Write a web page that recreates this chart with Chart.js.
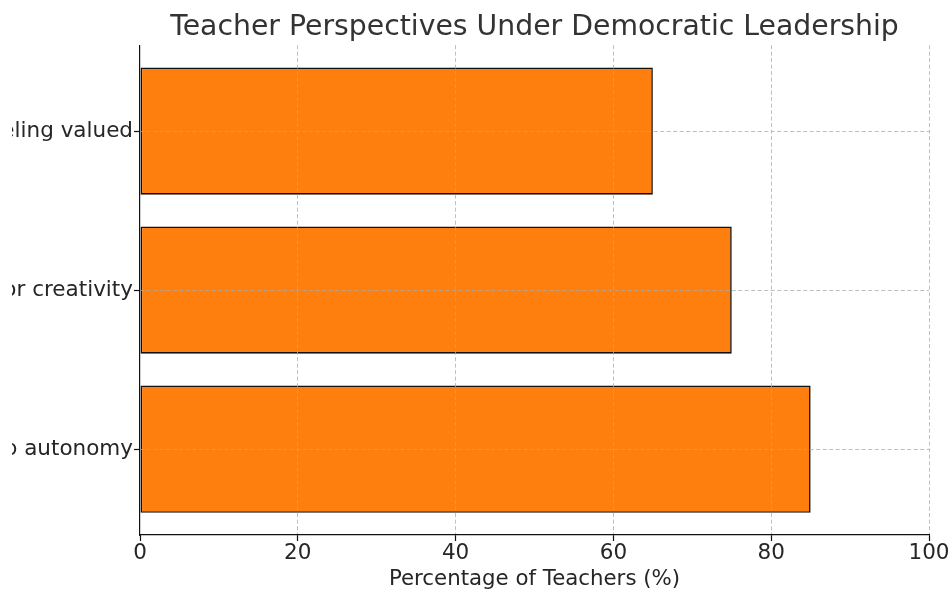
<!DOCTYPE html>
<html>
<head>
<meta charset="utf-8">
<script src="https://cdn.jsdelivr.net/npm/chart.js@4/dist/chart.umd.min.js"></script>
<style>
  html, body { margin: 0; padding: 0; background: #ffffff; }
  #wrap { width: 938px; height: 592px; padding-left: 12px; }
  canvas { display: block; }
</style>
</head>
<body>
<div id="wrap"><canvas id="chart" width="938" height="592"></canvas></div>
<script>
// Categories, bottom to top
const categories = ['Increased job autonomy', 'Support for creativity', 'Feeling valued'];
// Share of teachers reporting each perspective (%)
const percentages = [85, 75, 65];
// Value-axis tick labels
const xTicks = [0, 20, 40, 60, 80, 100];

const FONT = '"DejaVu Sans", "Liberation Sans", sans-serif';
const TEXT = '#262626';
const GRID = 'rgba(170,170,170,0.75)';

const points = percentages.map((v, i) => ({ x: v, y: i }));

// grid lines sit above the bars; the zero line is left to the solid axis spine
const xGridColor = (ctx) => (ctx.tick && ctx.tick.value === 0) ? 'rgba(0,0,0,0)' : GRID;

new Chart(document.getElementById('chart'), {
  type: 'bar',
  data: {
    datasets: [{
      data: points,
      backgroundColor: '#ff7f0e',
      borderColor: '#111111',
      borderWidth: 1.6,
      borderSkipped: false,
      barPercentage: 0.8,
      categoryPercentage: 1.0
    }]
  },
  options: {
    indexAxis: 'y',
    responsive: false,
    animation: false,
    layout: { padding: { left: 0, right: 21, top: 0, bottom: 0 } },
    plugins: {
      legend: { display: false },
      tooltip: { enabled: false },
      title: {
        display: true,
        fullSize: false,
        text: 'Teacher Perspectives Under Democratic Leadership',
        color: '#333333',
        font: { family: FONT, size: 28.3, weight: 'normal', lineHeight: 1.1 },
        padding: { top: 12, bottom: 2 }
      }
    },
    scales: {
      x: {
        type: 'linear',
        position: 'bottom',
        min: 0,
        max: 100,
        afterBuildTicks: (scale) => { scale.ticks = xTicks.map(v => ({ value: v })); },
        afterFit: (scale) => { scale.height = 57; },
        ticks: {
          color: TEXT,
          font: { family: FONT, size: 21.5 },
          padding: 0,
          maxRotation: 0
        },
        grid: {
          z: 1,
          color: xGridColor,
          lineWidth: 1,
          tickColor: '#111111',
          tickBorderDash: [],
          tickLength: 6,
          tickWidth: 1.2
        },
        border: { display: true, z: 2, color: '#111111', width: 1.2, dash: [4, 2.5] },
        title: {
          display: true,
          text: 'Percentage of Teachers (%)',
          color: TEXT,
          font: { family: FONT, size: 21.3 },
          padding: { top: 0, bottom: 0 }
        }
      },
      y: {
        type: 'linear',
        position: 'left',
        min: -0.54,
        max: 2.54,
        offset: false,
        afterBuildTicks: (scale) => { scale.ticks = categories.map((c, i) => ({ value: i })); },
        afterFit: (scale) => { scale.width = 128; },
        ticks: {
          color: TEXT,
          font: { family: FONT, size: 21.5 },
          padding: 1,
          callback: (v) => categories[v]
        },
        grid: {
          z: 1,
          offset: false,
          color: GRID,
          lineWidth: 1,
          tickColor: '#111111',
          tickBorderDash: [],
          tickLength: 6,
          tickWidth: 1.2
        },
        border: { display: true, z: 2, color: '#111111', width: 1.2, dash: [4, 2.5] }
      }
    }
  }
});
</script>
</body>
</html>
